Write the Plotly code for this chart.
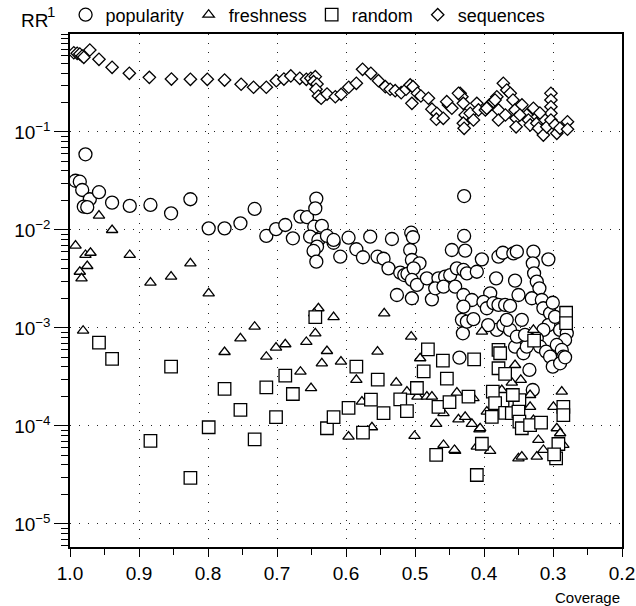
import plotly.graph_objects as go

# (coverage, RR)
popularity = [(0.9776,0.0592),(0.992,0.0318),(0.9858,0.0311),(0.9823,0.0256),(0.9713,0.0206),(0.958,0.0243),(0.980,0.0173),(0.975,0.0171),(0.939,0.0190),(0.9134,0.0176),(0.8834,0.0180),(0.8535,0.0148),(0.8255,0.0206),(0.799,0.0104),(0.776,0.0104),(0.753,0.0117),(0.7324,0.0164),(0.7155,0.00869),(0.7014,0.0102),(0.688,0.01125),(0.677,0.00823),(0.666,0.0137),(0.6565,0.0135),(0.643,0.0209),(0.6445,0.0166),(0.646,0.0108),(0.635,0.0110),(0.652,0.00855),(0.640,0.00791),(0.642,0.00676),(0.647,0.00611),(0.643,0.00475),(0.6276,0.00869),(0.618,0.00741),(0.6083,0.00534),(0.5963,0.00834),(0.5649,0.00855),(0.5334,0.00809),(0.5055,0.00938),(0.503,0.00843),(0.585,0.00636),(0.5754,0.00527),(0.5543,0.00534),(0.5456,0.00509),(0.5384,0.00406),(0.5214,0.00367),(0.5156,0.00347),(0.5109,0.00356),(0.507,0.00625),(0.5045,0.00494),(0.4935,0.00457),(0.502,0.00406),(0.5045,0.00309),(0.5262,0.00217),(0.5045,0.00201),(0.4972,0.00275),(0.4828,0.00321),(0.466,0.00321),(0.4563,0.00334),(0.449,0.00347),(0.4755,0.00196),(0.4707,0.00254),(0.4587,0.00264),(0.4418,0.00264),(0.4393,0.00406),(0.4298,0.00391),(0.4248,0.00361),(0.4104,0.00375),(0.4031,0.00502),(0.4466,0.00625),(0.4273,0.00615),(0.4288,0.0222),(0.4288,0.00869),(0.379,0.00534),(0.3727,0.00586),(0.3574,0.00578),(0.3524,0.00601),(0.3824,0.00321),(0.355,0.00304),(0.350,0.00217),(0.3284,0.00601),(0.3293,0.00457),(0.3274,0.00361),(0.3235,0.00297),(0.3197,0.00254),(0.3067,0.00502),(0.3307,0.00201),(0.3162,0.00193),(0.4298,0.00217),(0.4176,0.00193),(0.4298,0.00165),(0.432,0.00121),(0.4306,0.000883),(0.4248,0.00116),(0.4153,0.00123),(0.391,0.00226),(0.4008,0.00185),(0.3959,0.00159),(0.3863,0.00179),(0.379,0.00172),(0.3694,0.00172),(0.3622,0.00168),(0.3814,0.000955),(0.3719,0.00107),(0.3622,0.000955),(0.355,0.000644),(0.3452,0.00121),(0.3524,0.000815),(0.3429,0.000552),(0.338,0.000644),(0.3342,0.000373),(0.3293,0.000233),(0.3139,0.00159),(0.3042,0.00141),(0.3003,0.00181),(0.3067,0.00107),(0.297,0.00130),(0.2897,0.000955),(0.280,0.000883),(0.2825,0.000755),(0.3139,0.000955),(0.3235,0.000785),(0.3187,0.000644),(0.310,0.000573),(0.3042,0.000509),(0.3003,0.000403),(0.2945,0.000671),(0.2873,0.000597),(0.285,0.000509),(0.2897,0.000436),(0.2825,0.000502),(0.4356,0.000498),(0.618,0.00791),(0.367,0.00121),(0.394,0.00107),(0.3405,0.00085)]

freshness = [(0.958,0.0140),(0.939,0.0100),(0.992,0.00692),(0.9776,0.00556),(0.9703,0.00586),(0.975,0.00429),(0.9858,0.00375),(0.9833,0.00321),(0.9134,0.00556),(0.8834,0.00290),(0.8535,0.00334),(0.8255,0.00457),(0.799,0.00226),(0.981,0.000938),(0.776,0.000569),(0.753,0.000785),(0.7324,0.00103),(0.7155,0.000509),(0.7014,0.000630),(0.688,0.000682),(0.666,0.000358),(0.6575,0.000720),(0.6507,0.000243),(0.6445,0.000883),(0.640,0.00159),(0.646,0.00141),(0.635,0.000436),(0.6276,0.000582),(0.618,0.00129),(0.6073,0.000453),(0.5446,0.00141),(0.5055,0.000815),(0.5543,0.000573),(0.4925,0.000491),(0.585,0.000295),(0.5272,0.000277),(0.403,0.000917),(0.3284,0.000955),(0.355,0.000419),(0.3597,0.000277),(0.3467,0.000295),(0.2873,0.000224),(0.3332,0.000157),(0.5769,0.000177),(0.5624,0.0000970),(0.5963,0.0000778),(0.5117,0.000224),(0.4964,0.000199),(0.4828,0.000199),(0.4755,0.000199),(0.4393,0.000219),(0.4153,0.000192),(0.4587,0.000135),(0.4693,0.000105),(0.437,0.000117),(0.4273,0.000124),(0.4176,0.000105),(0.4066,0.0000925),(0.5007,0.0000791),(0.4587,0.0000640),(0.4418,0.0000556),(0.4104,0.0000615),(0.3911,0.0000556),(0.3501,0.0000468),(0.3959,0.000140),(0.3742,0.000233),(0.3284,0.000115),(0.2945,0.0000948),(0.2897,0.0000843),(0.3212,0.0000720),(0.3139,0.0000569),(0.3452,0.0000486),(0.3235,0.0000486),(0.285,0.0000640),(0.4056,0.0000948),(0.3332,0.000207),(0.2994,0.000157),(0.4428,0.0000569)]

random_ = [(0.958,0.000708),(0.939,0.000483),(0.8535,0.000403),(0.8834,0.0000703),(0.8255,0.0000295),(0.799,0.0000970),(0.776,0.000239),(0.753,0.000146),(0.7324,0.0000731),(0.7155,0.000248),(0.7014,0.000123),(0.688,0.000326),(0.677,0.000212),(0.6445,0.00129),(0.6276,0.0000948),(0.618,0.000123),(0.5963,0.000153),(0.585,0.000403),(0.5754,0.0000855),(0.5639,0.000186),(0.554,0.000297),(0.5456,0.000135),(0.5214,0.000187),(0.5117,0.000142),(0.4972,0.000244),(0.4874,0.000360),(0.4813,0.000606),(0.4596,0.000464),(0.4538,0.000304),(0.466,0.000157),(0.45,0.000175),(0.4143,0.000479),(0.4225,0.000199),(0.379,0.000597),(0.3766,0.000552),(0.379,0.000388),(0.3694,0.000340),(0.3872,0.000224),(0.3839,0.000171),(0.3887,0.000124),(0.3694,0.000136),(0.355,0.000177),(0.3597,0.000135),(0.4693,0.0000506),(0.4031,0.0000659),(0.4104,0.0000316),(0.281,0.00143),(0.281,0.00112),(0.3274,0.000742),(0.3487,0.000184),(0.3501,0.000140),(0.3487,0.000111),(0.3452,0.0000948),(0.3332,0.000102),(0.3173,0.000108),(0.285,0.000157),(0.285,0.000129),(0.2922,0.0000655),(0.2955,0.0000468),(0.3582,0.000207),(0.2984,0.0000513)]

sequences = [(0.9945,0.644),(0.9896,0.635),(0.9858,0.625),(0.9823,0.596),(0.980,0.578),(0.9713,0.687),(0.958,0.552),(0.939,0.457),(0.914,0.397),(0.885,0.361),(0.853,0.347),(0.8255,0.345),(0.801,0.345),(0.776,0.339),(0.752,0.307),(0.734,0.286),(0.7155,0.286),(0.701,0.334),(0.690,0.347),(0.680,0.373),(0.667,0.353),(0.6575,0.345),(0.651,0.353),(0.6445,0.367),(0.647,0.326),(0.642,0.309),(0.6435,0.273),(0.640,0.233),(0.636,0.221),(0.6275,0.244),(0.6155,0.229),(0.607,0.242),(0.596,0.286),(0.585,0.314),(0.576,0.436),(0.564,0.397),(0.553,0.334),(0.543,0.290),(0.536,0.273),(0.5287,0.264),(0.520,0.252),(0.513,0.273),(0.507,0.302),(0.503,0.290),(0.4964,0.248),(0.4915,0.233),(0.5045,0.196),(0.4805,0.221),(0.4755,0.171),(0.4683,0.155),(0.469,0.135),(0.459,0.138),(0.4515,0.189),(0.4466,0.175),(0.4346,0.248),(0.432,0.229),(0.430,0.196),(0.4273,0.149),(0.430,0.123),(0.4288,0.109),(0.420,0.155),(0.4153,0.1325),(0.4104,0.196),(0.408,0.168),(0.398,0.168),(0.392,0.189),(0.3863,0.204),(0.3814,0.229),(0.379,0.168),(0.379,0.1325),(0.372,0.314),(0.367,0.268),(0.362,0.248),(0.358,0.212),(0.355,0.168),(0.3535,0.138),(0.3535,0.113),(0.345,0.189),(0.338,0.149),(0.3356,0.1325),(0.3284,0.1745),(0.333,0.118),(0.3235,0.123),(0.321,0.109),(0.314,0.093),(0.314,0.138),(0.309,0.113),(0.303,0.248),(0.303,0.212),(0.303,0.181),(0.303,0.155),(0.303,0.1325),(0.297,0.118),(0.2945,0.097),(0.290,0.109),(0.279,0.127),(0.279,0.1066),(0.454,0.204),(0.437,0.248),(0.396,0.1745),(0.384,0.212),(0.319,0.156),(0.348,0.149),(0.369,0.149)]

x_ticks = [1.0, 0.9, 0.8, 0.7, 0.6, 0.5, 0.4, 0.3, 0.2]
y_ticks = [1e-5, 1e-4, 1e-3, 1e-2, 1e-1]
y_ticktext = ["10<sup>\u22125</sup>", "10<sup>\u22124</sup>", "10<sup>\u22123</sup>",
              "10<sup>\u22122</sup>", "10<sup>\u22121</sup>"]

series = [
    ("popularity", popularity, "circle", 13),
    ("freshness", freshness, "triangle-up", 10),
    ("random", random_, "square", 12.5),
    ("sequences", sequences, "diamond", 9.5),
]

fig = go.Figure()
for name, pts, sym, size in series:
    fig.add_trace(go.Scatter(
        x=[p[0] for p in pts], y=[p[1] for p in pts], mode="markers", name=name,
        marker=dict(symbol=sym, size=size, color="white",
                    line=dict(color="black", width=1.3)),
    ))

minor_y = [k * 10.0 ** e for e in range(-6, 0) for k in range(2, 10)]
minor_y = [v for v in minor_y if v > 5.8e-6] + [1.0]

fig.update_layout(
    width=636, height=606,
    margin=dict(l=70, r=14, t=34, b=59, autoexpand=False),
    paper_bgcolor="white", plot_bgcolor="white",
    font=dict(family="Liberation Sans, Arial, sans-serif", size=18, color="black"),
    legend=dict(orientation="h", x=-0.008, xanchor="left", y=1.037, yanchor="middle",
                font=dict(size=18), bgcolor="rgba(0,0,0,0)", itemwidth=30,
                tracegroupgap=0),
    xaxis=dict(range=[1.0, 0.2], tickmode="array", tickvals=x_ticks,
               ticktext=[f"{v:.1f}" for v in x_ticks], tickfont=dict(size=19),
               ticks="outside", ticklen=8, tickwidth=1.3, tickcolor="black",
               showline=True, linecolor="black", linewidth=1.5, mirror=True,
               showgrid=True, gridcolor="#222", gridwidth=1, griddash="1px,8px",
               zeroline=False, automargin=False,
               minor=dict(ticks="outside", ticklen=6, tickwidth=1.3, tickcolor="black",
                          dtick=0.05, tick0=0.0, showgrid=False)),
    yaxis=dict(type="log", range=[-5.235, 0], tickmode="array", tickvals=y_ticks,
               ticktext=y_ticktext, tickfont=dict(size=19),
               ticks="outside", ticklen=14, tickwidth=1.3, tickcolor="black",
               showline=True, linecolor="black", linewidth=1.5, mirror=True,
               showgrid=True, gridcolor="#222", gridwidth=1, griddash="1px,8px",
               zeroline=False, automargin=False,
               minor=dict(ticks="outside", ticklen=7, tickwidth=1.3, tickcolor="black",
                          tickmode="array", tickvals=minor_y, showgrid=False)),
    annotations=[
        dict(text="Coverage", xref="paper", yref="paper", x=1.0, y=-0.0975,
             xanchor="right", yanchor="middle", showarrow=False, font=dict(size=15)),
        dict(text="RR", xref="paper", yref="paper", x=-0.065, y=1.027,
             xanchor="center", yanchor="middle", showarrow=False, font=dict(size=19)),
        dict(text="1", xref="paper", yref="paper", x=-0.034, y=1.043,
             xanchor="center", yanchor="middle", showarrow=False, font=dict(size=15)),
    ],
)

fig.write_html("out.html")
